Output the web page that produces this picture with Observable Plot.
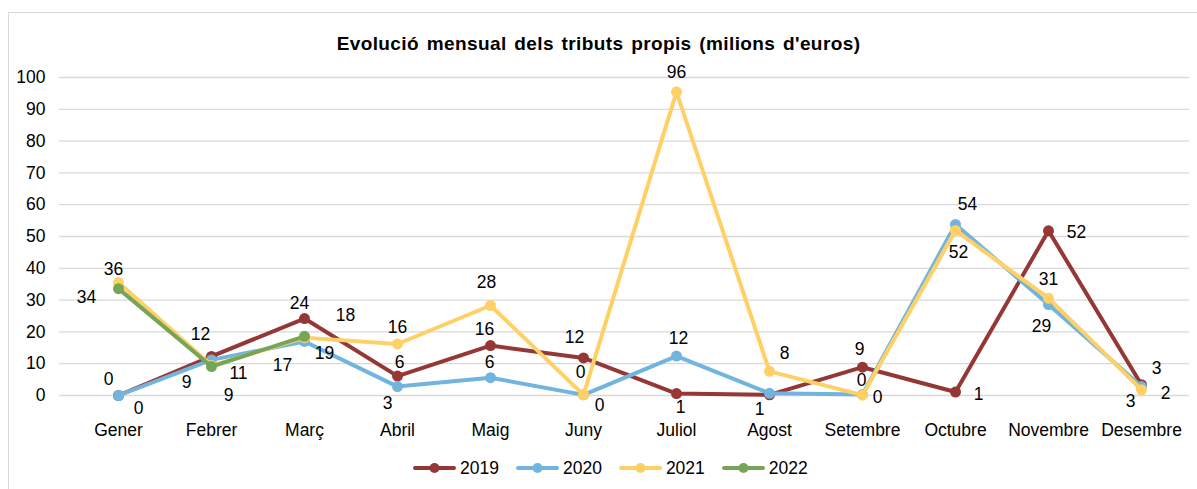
<!DOCTYPE html>
<html>
<head>
<meta charset="utf-8">
<script src="https://cdn.jsdelivr.net/npm/d3@7"></script>
<script src="https://cdn.jsdelivr.net/npm/@observablehq/plot@0.6"></script>
<style>
  html, body { margin: 0; padding: 0; background: #fff; }
  #wrap { position: relative; width: 1197px; height: 489px; overflow: hidden; font-family: "Liberation Sans", Arial, sans-serif; color: #000; }
  #frame { position: absolute; left: 8px; top: 12px; width: 1200px; height: 490px; border: 1px solid #d9d9d9; box-sizing: border-box; }
  #title { position: absolute; left: 0; width: 1197px; top: 34px; text-align: center; font-weight: bold; font-size: 19px; line-height: 20px; letter-spacing: 0.4px; word-spacing: 2px; }
  #chart { position: absolute; left: 0; top: 0; }
  #legend { position: absolute; left: 413px; top: 458px; display: flex; align-items: center; font-size: 17.5px; line-height: 20px; }
  .item { display: flex; align-items: center; margin-right: 17px; }
  .item svg { margin-right: 4px; }
</style>
</head>
<body>
<div id="wrap">
  <div id="frame"></div>
  <div id="chart"></div>
  <div id="title">Evolució mensual dels tributs propis (milions d'euros)</div>
  <div id="legend"></div>
</div>
<script>
const months = ["Gener","Febrer","Març","Abril","Maig","Juny","Juliol","Agost","Setembre","Octubre","Novembre","Desembre"];
const years = ["2019","2020","2021","2022"];
const v2019 = [0, 12.3, 24.2, 6.1, 15.7, 11.8, 0.6, 0.2, 8.9, 1.1, 51.8, 3.4];
const v2020 = [0, 11.2, 17.0, 2.8, 5.6, 0.2, 12.4, 0.7, 0.3, 53.8, 28.6, 2.8];
const v2021 = [35.5, 9.4, 18.2, 16.2, 28.3, 0.2, 95.5, 7.6, 0.1, 51.9, 30.6, 1.8];
const v2022 = [33.6, 9.1, 18.6, null, null, null, null, null, null, null, null, null];
const yTicks = [0, 10, 20, 30, 40, 50, 60, 70, 80, 90, 100];
const colors = ["#953735", "#71B5DE", "#FFD066", "#77A556"];

// label placement (pixel offsets from the point), null = no label shown
const labelOffsets = {
  "2019": [[-10,-16],[-11,-22],[-5,-15],[2,-14],[-6,-16],[-9,-21],[4,14],null,[-3,-18],[23,2],[28,2],[15,-16]],
  "2020": [[20,13],[27,14],[-22,24],[-10,17],[-1,-15],[16,11],[2,-18],[-10,16],[15,3],[12,-20],[-7,22],[-11,15]],
  "2021": [[-5,-13],[-25,17],[41,-22],[0,-17],[-4,-23],[-3,-22],[0,-19],[15,-18],[-1,-15],[3,22],[0,-19],[24,4]],
  "2022": [[-32,9],[17,29],[20,17],null,null,null,null,null,null,null,null,null]
};

const seriesValues = [v2019, v2020, v2021, v2022];
const rows = [];
years.forEach((y, si) => {
  months.forEach((m, mi) => {
    const v = seriesValues[si][mi];
    if (v !== null) rows.push({year: y, month: m, value: v, si, mi});
  });
});

const marks = [
  Plot.ruleY(yTicks, {stroke: "#d9d9d9", strokeWidth: 1.3}),
  Plot.axisY({ticks: yTicks, tickSize: 0, tickPadding: 14, label: null, fontSize: 17.5}),
  Plot.axisX({tickSize: 0, tickPadding: 28, label: null, fontSize: 17.5})
];
years.forEach((y, si) => {
  const data = rows.filter(r => r.year === y);
  marks.push(Plot.line(data, {x: "month", y: "value", stroke: colors[si], strokeWidth: 4, strokeLinejoin: "round", strokeLinecap: "round"}));
  marks.push(Plot.dot(data, {x: "month", y: "value", fill: colors[si], r: 5.5}));
});
rows.forEach(r => {
  const off = labelOffsets[r.year][r.mi];
  if (!off) return;
  marks.push(Plot.text([r], {x: "month", y: "value", text: d => String(Math.round(d.value)), dx: off[0], dy: off[1], fontSize: 17.5, fill: "#000"}));
});

const chart = Plot.plot({
  width: 1197,
  height: 489,
  marginTop: 77,
  marginBottom: 94,
  marginLeft: 59,
  marginRight: 8,
  style: {fontFamily: "'Liberation Sans', Arial, sans-serif", fontSize: "17.5px", color: "#000", background: "transparent", overflow: "visible"},
  x: {type: "point", domain: months, range: [115, 1143], padding: 0},
  y: {domain: [0, 100], range: [395, 77]},
  marks
});
document.getElementById("chart").appendChild(chart);

const legend = document.getElementById("legend");
years.forEach((y, si) => {
  const item = document.createElement("div");
  item.className = "item";
  item.innerHTML = `<svg width="43" height="12"><line x1="2" y1="6" x2="41" y2="6" stroke="${colors[si]}" stroke-width="4" stroke-linecap="round"/><circle cx="21.5" cy="6" r="5" fill="${colors[si]}"/></svg><span>${y}</span>`;
  legend.appendChild(item);
});
</script>
</body>
</html>
